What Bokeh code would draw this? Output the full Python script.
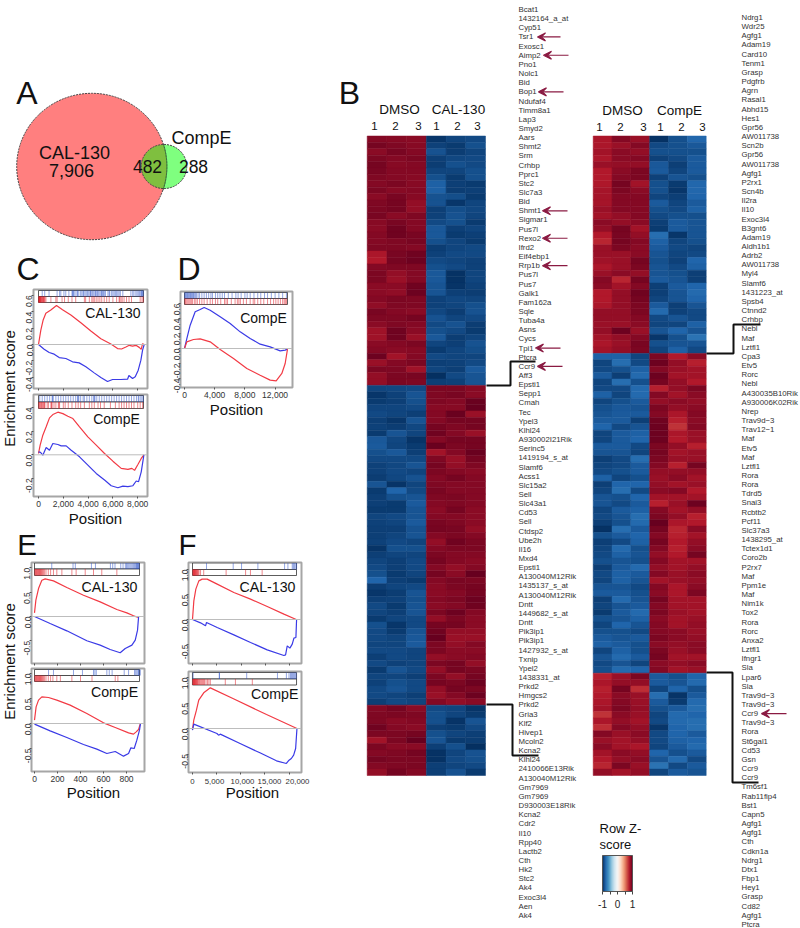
import math
import numpy as np
from bokeh.core.properties import value
from bokeh.embed import file_html
from bokeh.layouts import column, row
from bokeh.models import (Arrow, ColorBar, ColumnDataSource, FixedTicker, LinearColorMapper,
                          NumeralTickFormatter, Range1d, Span, VeeHead)
from bokeh.palettes import RdBu11
from bokeh.plotting import figure
from bokeh.resources import INLINE
from bokeh.transform import transform

FONT = "Liberation Sans"

# ---------- Venn ----------
VENN_CAL_ONLY = 7906
VENN_OVERLAP = 482
VENN_COMPE_ONLY = 288

# ---------- GSEA curves: position / enrichment score ----------
C1_RED_X = [0,188,377,592,995,1453,1937,2610,3416,4223,5030,5837,6375,6698,7048,7317,7586,7855,8124,8285,8393,8527]
C1_RED_Y = [0,.175,.30,.38,.42,.475,.425,.36,.265,.165,.07,.005,-.05,-.055,-.03,-.01,-.02,-.01,-.035,-.06,.01,0]
C1_BLUE_X = [0,457,861,1265,1668,2206,2744,3282,3820,4492,5030,5568,5972,6644,7182,7290,7586,7801,8043,8258,8393,8527]
C1_BLUE_Y = [0,-.057,-.098,-.118,-.159,-.171,-.211,-.224,-.272,-.346,-.403,-.451,-.427,-.427,-.423,-.378,-.415,-.394,-.313,-.191,-.069,0]
C2_RED_X = [0,134,350,619,888,1157,1560,1964,2367,2771,3309,3981,4654,5326,5999,6671,7209,7532,7747,8016,8285,8500]
C2_RED_Y = [.011,.082,.166,.237,.313,.341,.361,.349,.327,.307,.237,.152,.082,.011,-.054,-.115,-.124,-.115,-.132,-.082,-.031,0]
C2_BLUE_X = [0,161,350,619,888,1157,1560,1829,2232,2636,3309,3981,4654,5326,5864,6402,6805,7209,7613,7882,8070,8285,8500]
C2_BLUE_Y = [.025,.02,-.003,.062,.039,.096,.087,.076,.076,.039,-.017,-.087,-.158,-.214,-.262,-.279,-.265,-.27,-.262,-.222,-.228,-.144,0]
D_BLUE_X = [0,309,751,1413,2075,2605,3400,4724,6049,7373,8698,10022,11347,12672,13334,13643]
D_BLUE_Y = [0,.133,.311,.489,.52,.547,.511,.422,.333,.222,.133,.058,.022,-.031,-.022,-.009]
D_RED_X = [0,309,1192,2075,3400,4724,6490,8256,10022,11347,12142,12892,13334,13643]
D_RED_Y = [0,.089,.12,.129,.089,-.013,-.133,-.267,-.356,-.422,-.431,-.333,-.2,-.009]
E1_RED_X = [0,12,35,64,93,165,281,426,571,716,803,861,905]
E1_RED_Y = [.075,.336,.575,.747,.774,.733,.596,.438,.301,.144,.075,.014,-.02]
E1_BLUE_X = [0,136,281,455,571,658,745,789,847,876,896,905]
E1_BLUE_Y = [0,-.144,-.295,-.5,-.589,-.678,-.747,-.658,-.589,-.486,-.281,-.007]
E2_RED_X = [0,14,35,64,122,194,310,455,600,702,818,861,884,905,919]
E2_RED_Y = [.067,.333,.467,.533,.52,.467,.367,.2,.013,-.08,-.187,-.213,-.167,-.12,-.013]
E2_BLUE_X = [0,136,281,426,542,629,702,774,818,838,867,890,913,922]
E2_BLUE_Y = [-.013,-.147,-.28,-.42,-.513,-.6,-.56,-.653,-.6,-.487,-.5,-.333,-.133,0]
F1_RED_X = [0,274,685,1302,1987,3014,5069,8494,11919,15344,18769,21303]
F1_RED_Y = [0,.373,.607,.773,.807,.807,.707,.54,.407,.26,.107,0]
F1_BLUE_X = [0,1644,2672,2877,5069,8494,11919,15344,18769,19112,19454,20002,20481,20824,21235,21372]
F1_BLUE_Y = [0,-.067,-.127,-.06,-.16,-.307,-.46,-.607,-.72,-.707,-.527,-.573,-.493,-.373,-.36,0]
F2_RED_X = [0,274,822,1302,2329,3699,8494,15344,21646]
F2_RED_Y = [-.03,.163,.359,.556,.7,.797,.582,.275,0]
F2_BLUE_X = [0,274,5069,5411,5754,9864,13974,17399,19454,20002,20481,20961,21372,21646]
F2_BLUE_Y = [-.033,.085,-.098,-.131,-.111,-.294,-.477,-.634,-.686,-.621,-.588,-.523,-.392,0]
F2_TICKS = [0, 5000, 10000, 15000, 20000]
F2_TICK_PAGE_X = [192, 214, 242, 269, 297]

# ---------- GSEA hit positions (rug strips) ----------
C1_BLUE_HITS = [300,500,850,1500,1700,1800,2050,2200,2450,2700,2750,2800,2850,2950,3100,3150,3250,3400,3500,3600,3650,3750,3850,3950,4050,4150,4200,4250,4350,4450,4550,4600,4700,4750,4850,4950,5050,5100,5150,5250,5300,5400,5600,5700,5750,5900,6000,6100,6200,6300,6400,6500,6600,6800,7450,7600,7700,7850,7950,8050,8150,8250,8300,8350,8400,8450]
C1_RED_HITS = [20,40,60,80,100,120,150,170,200,240,280,320,360,400,430,470,520,600,1000,1400,1500,1900,2100,2400,2700,3000,3700,3800,4100,4300,4400,4500,4650,4800,4950,5100,5300,5500,5700,6000,6300,6500,6550,6650,6750,6900,7100,7300,7500,8200,8350,8450]
C2_BLUE_HITS = [100,300,500,700,900,1100,1150,1180,1400,1600,1800,2000,2200,2400,2600,2800,3000,3150,3200,3250,3400,3600,3700,3900,4100,4300,4450,4500,4550,4700,4900,5100,5300,5500,5700,5900,6100,6300,6500,6700,6900,7100,7300,7500,7700,7900,8050,8100,8250,8350,8450]
C2_RED_HITS = [30,60,120,180,240,300,360,420,480,520,700,800,1000,1050,1100,1250,1400,1600,1650,1700,2000,2150,2400,2700,3000,3200,3400,3700,4100,4300,4500,4800,5000,5300,5800,6200,6500,6700,6900,7100,7300,7500,7700,8000,8200,8400]
D_BLUE_HITS = [30,120,210,300,400,500,600,700,800,900,1000,1100,1200,1300,1450,1600,1800,2000,2300,2600,2900,3200,3500,3700,4100,4400,4700,5000,5300,5800,6300,6800,7100,7500,8000,8300,8700,9200,9700,10100,10600,11000,11500,12000,12500,13000,13500]
D_RED_HITS = [50,150,300,450,600,750,900,1050,1300,1500,1700,2000,2300,2600,3000,3400,3700,4100,4400,4800,5300,5500,5700,6200,6700,7000,7200,7400,7800,8200,8700,9100,9300,9700,10100,10500,11000,11400,11800,12100,12400,12700,13000,13200,13350,13500]
E1_BLUE_HITS = [150,335,355,495,530,660,680,700,750,770,790,800,810,820,830,840,850,860,870,880,885,890,895,900,905,910]
E1_RED_HITS = [3,8,13,18,23,28,33,38,43,48,53,58,63,70,78,88,100,120,140,165,194,238,325,362,441,513,585,716]
E2_BLUE_HITS = [122,165,339,417,513,525,537,629,650,675,780,818,870,880,890,900,905,910,920]
E2_RED_HITS = [3,8,13,18,23,28,33,38,43,48,53,58,63,70,78,88,100,120,140,160,194,225,325,400,500,702,725]
F1_BLUE_HITS = [2877,8357,10070,13426,18906,19591,20481,20700,20900,21100,21372]
F1_RED_HITS = [70,140,210,280,350,420,500,580,660,750,850,950,1050,1200,1350,1650,2300,6900,10900,11900,14300]
F2_BLUE_HITS = [137,5548,5600,11234,17605,19454,20000,20300,20500,20700,20900,21100,21300,21500]
F2_RED_HITS = [70,140,210,280,350,420,500,580,660,750,850,950,1050,1200,1350,1500,1700,1900,2100,2300,2500,2800,3100,3400,3700,6800,8900,12400]

# ---------- Heat maps ----------
HEADER_1 = ["DMSO", "CAL-130"]
HEADER_2 = ["DMSO", "CompE"]
SAMPLE_NUMBERS = ["1", "2", "3", "1", "2", "3"]

GENES_1 = ["Bcat1","1432164_a_at","Cyp51","Tsr1","Exosc1","Aimp2","Pno1","Nolc1","Bid","Bop1","Ndufaf4","Timm8a1","Lap3","Smyd2","Aars","Shmt2","Srm","Crhbp","Pprc1","Stc2","Slc7a3","Bid","Shmt1","Sigmar1","Pus7l","Rexo2","Ifrd2","Eif4ebp1","Rrp1b","Pus7l","Pus7","Galk1","Fam162a","Sqle","Tuba4a","Asns","Cycs","Tpi1","Ptcra","Ccr9","Aff3","Epsti1","Sepp1","Cmah","Tec","Ypel3","Klhl24","A930002I21Rik","Serinc5","1419194_s_at","Slamf6","Acss1","Slc15a2","Sell","Slc43a1","Cd53","Sell","Ctdsp2","Ube2h","Il16","Mxd4","Epsti1","A130040M12Rik","1435137_s_at","A130040M12Rik","Dntt","1449682_s_at","Dntt","Pik3ip1","Pik3ip1","1427932_s_at","Txnip","Ypel2","1438331_at","Prkd2","Hmgcs2","Prkd2","Gria3","Klf2","Hivep1","Mcoln2","Kcna2","Klhl24","2410066E13Rik","A130040M12Rik","Gm7969","Gm7969","D930003E18Rik","Kcna2","Cdr2","Il10","Rpp40","Lactb2","Cth","Hk2","Stc2","Ak4","Exoc3l4","Aen","Ak4"]
GENES_2 = ["Ndrg1","Wdr25","Agfg1","Adam19","Card10","Tenm1","Grasp","Pdgfrb","Agrn","Rasal1","Abhd15","Hes1","Gpr56","AW011738","Scn2b","Gpr56","AW011738","Agfg1","P2rx1","Scn4b","Il2ra","Il10","Exoc3l4","B3gnt6","Adam19","Aldh1b1","Adrb2","AW011738","Myl4","Slamf6","1431223_at","Spsb4","Ctnnd2","Crhbp","Nebl","Maf","Lztfl1","Cpa3","Etv5","Rorc","Nebl","A430035B10Rik","A930006K02Rik","Nrep","Trav9d\u22123","Trav12\u22121","Maf","Etv5","Maf","Lztfl1","Rora","Rora","Tdrd5","Snai3","Rcbtb2","Pcf11","Slc37a3","1438295_at","Tctex1d1","Coro2b","P2rx7","Maf","Ppm1e","Maf","Nim1k","Tox2","Rora","Rorc","Anxa2","Lztfl1","Ifngr1","Sla","Lpar6","Sla","Trav9d\u22123","Trav9d\u22123","Ccr9","Trav9d\u22123","Rora","St6gal1","Cd53","Gsn","Ccr9","Ccr9","Tm6sf1","Rab11fip4","Bst1","Capn5","Agfg1","Agfg1","Cth","Cdkn1a","Ndrg1","Dtx1","Fbp1","Hey1","Grasp","Cd82","Agfg1","Ptcra"]
ARROW_GENES_1 = [3, 5, 9, 22, 25, 28, 37, 39]
ARROW_GENES_2 = [76]

# Z-score x100 per row; the first three columns are DMSO, the last three the drug.
HM1_TOP = [  # DMSO high
[92,91,90,97,92,90],[96,93,91,93,96,88],[90,95,92,87,95,92],[94,92,94,94,91,90],[96,91,92,95,88,90],
[95,92,92,92,92,88],[93,92,91,88,96,88],[92,94,91,82,94,96],[94,91,92,82,95,94],[90,95,91,87,89,96],
[93,96,88,87,97,92],[94,96,88,94,89,91],[95,90,93,93,87,92],[91,95,92,90,88,96],[90,97,92,85,94,92],
[92,97,95,85,96,94],[92,93,95,88,92,96],[93,93,92,95,92,90],[82,95,97,93,90,90],[80,96,98,90,92,93],
[92,93,93,88,90,93],[94,88,92,85,99,92],[94,86,92,85,99,92],[90,90,97,86,98,93],[90,89,98,86,94,95],
[92,94,93,93,91,92],[89,93,93,93,92,88],[95,92,90,91,95,87],[93,93,96,87,92,90],[90,93,92,90,87,95],
[85,97,90,88,90,96],[85,97,86,85,95,92],[90,92,94,92,94,87],[92,90,91,96,92,89],[98,84,92,90,92,92],
[86,92,94,94,93,90],[94,93,85,92,94,84],[88,94,95,100,90,86],[88,94,93,94,93,86]]
HM1_MID = [  # drug high
[92,91,90,94,94,91],[97,93,86,93,95,90],[96,94,88,93,92,99],[92,92,90,91,91,100],[90,92,94,92,99,86],
[94,97,86,92,96,96],[93,95,91,96,93,96],[96,86,92,97,92,86],[85,91,98,92,96,96],[84,92,96,99,94,96],
[88,85,94,84,92,99],[90,90,90,93,86,96],[93,91,86,96,88,93],[93,90,92,94,92,90],[95,91,87,92,96,92],
[86,98,92,93,92,92],[96,80,90,95,92,92],[94,88,86,93,94,92],[94,96,84,92,93,92],[96,96,86,90,96,90],
[92,90,86,92,92,90],[93,92,84,95,93,90],[94,94,87,96,95,88],[94,92,86,92,94,92],[93,90,92,88,97,94],
[98,88,88,92,94,94],[94,92,92,94,92,92],[92,94,90,96,92,90],[90,94,90,92,88,92],[88,96,92,96,90,100],
[80,94,96,92,95,94],[95,92,90,90,94,96],[97,95,86,90,92,96],[94,93,88,92,94,98],[90,96,86,90,92,97],
[92,94,86,94,98,92],[96,92,90,88,94,90],[88,97,90,96,96,90],[90,96,86,97,88,88],[90,92,85,100,86,86],
[92,92,84,94,88,92],[90,90,92,94,90,90],[94,90,92,88,90,92],[90,93,92,94,96,88],[96,86,90,88,96,94],
[92,92,94,94,88,96],[93,88,90,96,94,98],[90,86,90,88,96,94],[90,92,94,86,92,98],[94,90,92,92,88,90]]
HM1_BOT = [  # DMSO high
[92,96,90,90,92,98],[93,94,93,88,92,96],[93,90,92,88,98,86],[97,92,90,94,96,90],[94,94,96,88,92,94],
[84,94,100,86,96,95],[94,90,90,94,88,100],[92,93,96,99,92,87],[96,94,94,99,90,88],[92,93,94,94,92,90],
[88,96,92,94,87,96]]
HM2_TOP = [  # DMSO high
[82,92,86,99,88,79],[82,86,92,90,88,85],[84,90,88,88,88,88],[82,90,92,93,90,84],[86,88,88,85,94,84],
[80,90,94,84,92,84],[80,92,94,93,86,88],[81,96,84,88,96,79],[83,94,90,88,97,79],[83,92,92,92,94,80],
[83,92,92,84,92,84],[86,92,92,88,90,82],[84,88,92,90,88,88],[90,88,90,94,84,86],[88,96,84,96,84,86],
[80,95,88,76,97,86],[76,96,92,82,92,88],[86,94,90,84,90,92],[86,86,90,86,92,90],[85,86,96,88,93,80],
[82,86,94,86,90,82],[86,90,88,86,88,94],[92,76,96,84,86,94],[90,84,92,94,84,80],[80,88,97,94,86,78],
[80,88,96,92,86,80],[82,88,94,84,94,86],[88,88,94,78,93,90],[88,88,92,90,86,90],[86,86,90,92,92,82],
[88,98,86,86,80,86],[84,88,92,97,88,74],[82,86,95,88,86,86],[84,88,94,92,82,90]]
HM2_MID = [  # drug high
[82,82,92,94,80,90],[92,76,90,98,88,78],[90,88,82,92,86,84],[84,94,78,98,84,84],[92,76,88,96,88,80],
[90,90,78,78,88,94],[82,92,78,92,84,90],[92,88,84,88,90,88],[88,85,86,94,88,90],[86,84,84,92,82,92],
[84,84,94,97,78,90],[80,90,86,98,72,92],[92,84,82,98,82,86],[92,84,80,98,80,86],[84,84,90,94,88,78],
[86,86,92,96,84,86],[94,90,76,94,86,86],[92,90,84,92,78,96],[90,88,84,88,88,88],[82,92,88,86,90,84],
[94,80,80,88,84,86],[92,76,90,90,92,80],[86,88,80,84,84,84],[86,90,84,78,86,98],[92,84,82,92,84,88],
[90,86,76,94,88,78],[94,88,78,100,82,80],[99,76,84,96,76,90],[88,84,80,92,78,84],[94,90,82,96,80,88],
[92,78,88,92,78,90],[90,82,86,88,80,96],[88,86,88,92,84,84],[94,84,78,88,84,88],[90,82,84,92,86,90],
[92,82,86,84,86,88],[86,86,90,92,82,90],[84,84,88,90,82,94],[94,78,86,96,84,84],[92,86,84,92,84,84],
[96,84,78,94,86,84],[88,86,82,90,84,86],[92,80,86,92,84,88],[88,88,90,92,90,86],[84,86,84,94,90,88],
[82,84,88,90,88,90],[92,82,88,94,86,90],[86,78,84,96,84,84],[90,86,92,90,88,90],[88,78,80,92,84,86]]
HM2_BOT = [  # DMSO high
[78,86,94,84,88,80],[82,88,88,84,86,78],[78,96,74,92,80,88],[80,90,86,76,98,84],[82,92,86,84,96,78],
[84,94,88,88,84,76],[72,90,86,92,78,80],[82,88,84,90,78,76],[74,92,88,97,80,76],[92,86,90,90,80,84],
[86,84,88,90,82,80],[90,84,82,92,84,78],[84,90,88,80,88,84],[80,88,90,86,78,90],[76,94,86,74,90,84],
[88,84,88,92,84,86]]

# ---------- layout constants (page pixels; the figures start at page 0,0) ----------
PAGE_W, PAGE_H = 800, 928
RED = "#f23a44"
BLUE = "#3a3ae6"
ARROW_COLOR = "#8a1a42"


def txt(p, xs, ys, labels, size, align="center", color="#111111", angle=0.0, **kw):
    src = ColumnDataSource(dict(x=xs, y=ys, t=labels))
    p.text("x", "y", "t", source=src, text_font=value(FONT), text_font_size=f"{size}px",
           text_align=align, text_baseline="middle", text_color=color, angle=angle, **kw)


def page_figure(x0, x1, y0, y1):
    """A bare figure whose data units are page pixels."""
    p = figure(width=x1 - x0, height=y1 - y0, x_range=Range1d(x0, x1), y_range=Range1d(y1, y0),
               output_backend="svg", toolbar_location=None, min_border=0)
    p.axis.visible = False
    p.grid.visible = False
    p.outline_line_color = None
    return p


def position_strip(x0, x1, y0, y1, page_x, page_y):
    """Wrapped in a row so that the column does not align its frame with the panels."""
    s = page_figure(x0, x1, y0, y1)
    txt(s, [page_x], [page_y], ["Position"], 15)
    return row(s), s


def panel(fig_x, fig_y, frame_x, frame_y, x_zero, x_scale, y_zero, y_scale, rug_x, rug_y,
          curves, hits, xticks, yticks, show_x):
    """One enrichment panel: frame_* in page pixels, x_zero/y_zero the pixel of value 0."""
    fl, fr = frame_x
    ft, fb = frame_y
    p = figure(width=fig_x[1] - fig_x[0], height=fig_y[1] - fig_y[0],
               x_range=Range1d((fl - x_zero) / x_scale, (fr - x_zero) / x_scale),
               y_range=Range1d((y_zero - fb) / y_scale, (y_zero - ft) / y_scale),
               output_backend="svg", toolbar_location=None,
               min_border_left=fl - fig_x[0], min_border_right=fig_x[1] - fr,
               min_border_top=ft - fig_y[0], min_border_bottom=fig_y[1] - fb)
    p.grid.visible = False
    p.outline_line_color = "#a6a6a6"
    p.outline_line_width = 2
    p.axis.axis_line_color = None
    p.axis.major_tick_line_color = "#555555"
    p.axis.minor_tick_line_color = None
    p.axis.major_tick_in = 0
    p.axis.major_tick_out = 2
    p.axis.major_label_text_font = FONT
    p.axis.major_label_text_font_size = "8.5px"
    p.axis.major_label_text_color = "#333333"
    p.axis.major_label_standoff = 2
    p.yaxis.ticker = FixedTicker(ticks=yticks)
    p.xaxis.ticker = FixedTicker(ticks=xticks)
    p.yaxis.formatter = NumeralTickFormatter(format="0.0")
    p.xaxis.formatter = NumeralTickFormatter(format="0,0")
    p.yaxis.major_label_orientation = math.pi / 2
    if not show_x:
        p.xaxis.major_label_overrides = {t: "" for t in xticks}
        p.xaxis.major_label_standoff = 0

    p.add_layout(Span(location=0, dimension="width", line_color="#bdbdbd", line_width=1))
    for xs, ys, color in curves:
        p.line(xs, ys, line_color=color, line_width=1.2)

    ytop, ymid, ybot = [(y_zero - v) / y_scale for v in rug_y]
    x_a, x_b = [(v - x_zero) / x_scale for v in rug_x]
    p.quad(left=[x_a, x_a], right=[x_b, x_b], top=[ytop, ymid], bottom=[ymid, ybot],
           fill_color="white", line_color="#333333", line_width=0.8)
    w = 1.0 / x_scale
    p.vbar(x=hits[0], width=w, bottom=ymid, top=ytop, fill_color="#2a50c8", fill_alpha=0.5, line_color=None)
    p.vbar(x=hits[1], width=w, bottom=ybot, top=ymid, fill_color="#e0141e", fill_alpha=0.5, line_color=None)
    return p


# ---------- head figure: A, Venn, C, D ----------
head = page_figure(0, 340, 0, 287)
k = 0.82
r_big = k * math.sqrt(VENN_CAL_ONLY + VENN_OVERLAP)
r_small = k * math.sqrt(VENN_OVERLAP + VENN_COMPE_ONLY)
head.ellipse([91.3], [166], width=[2 * r_big], height=[2 * r_big * 0.975], fill_color="#ff0000",
             fill_alpha=0.5, line_color="#444444", line_dash="2 1", line_width=1)
head.ellipse([163.5], [166], width=[2 * r_small], height=[2 * r_small * 0.97], fill_color="#00ff00",
             fill_alpha=0.5, line_color="#444444", line_dash="2 1", line_width=1)
head.arc([91.3], [166], radius=[r_big], start_angle=[-0.32], end_angle=[0.32],
         line_color="#444444", line_dash="2 1", line_width=1, direction="anticlock")
txt(head, [74], [152], ["CAL-130"], 18)
txt(head, [71], [170], [f"{VENN_CAL_ONLY:,}"], 18)
txt(head, [147], [166], [str(VENN_OVERLAP)], 17.5)
txt(head, [193], [166], [str(VENN_COMPE_ONLY)], 17.5)
txt(head, [201], [137], ["CompE"], 18)
txt(head, [26.5], [92], ["A"], 32)
txt(head, [27.5], [268], ["C"], 32)
txt(head, [188.5], [268], ["D"], 32)

# ---------- C and D ----------
es_c = page_figure(0, 18, 287, 527)
txt(es_c, [9], [388], ["Enrichment score"], 15, angle=math.pi / 2)

c1 = panel((18, 164), (287, 392), (33, 147), (289, 388), 38, 0.0124, 344, 82,
           (38, 143), (290, 296, 302),
           [(C1_RED_X, C1_RED_Y, RED), (C1_BLUE_X, C1_BLUE_Y, BLUE)], (C1_BLUE_HITS, C1_RED_HITS),
           [0, 2000, 4000, 6000, 8000], [-0.4, -0.2, 0, 0.2, 0.4, 0.6], False)
txt(c1, [6000], [0.38], ["CAL-130"], 14)
c2 = panel((18, 164), (392, 510), (33, 147), (394, 496), 38, 0.0124, 454.3, 118,
           (38, 143), (395, 401.5, 408),
           [(C2_RED_X, C2_RED_Y, RED), (C2_BLUE_X, C2_BLUE_Y, BLUE)], (C2_BLUE_HITS, C2_RED_HITS),
           [0, 2000, 4000, 6000, 8000], [-0.4, -0.2, 0, 0.2, 0.4], True)
txt(c2, [6290], [0.3], ["CompE"], 14)
c_strip, _ = position_strip(18, 164, 510, 527, 95, 518)
d = panel((164, 340), (287, 401), (180, 292), (291, 387), 184, 0.00755, 348, 75,
          (184, 287), (292, 298, 304),
          [(D_BLUE_X, D_BLUE_Y, BLUE), (D_RED_X, D_RED_Y, RED)], (D_BLUE_HITS, D_RED_HITS),
          [0, 4000, 8000, 12000], [-0.4, -0.2, 0, 0.2, 0.4, 0.6], True)
txt(d, [10460], [0.413], ["CompE"], 14)
d_strip, _ = position_strip(164, 340, 401, 527, 236, 409)

row_cd = row(column(es_c), column(c1, c2, c_strip), column(d, d_strip))

# ---------- E and F ----------
head2 = page_figure(0, 340, 527, 561)
txt(head2, [26.5], [544], ["E"], 29.5)
txt(head2, [187], [544], ["F"], 29.5)

es_e = page_figure(0, 17, 561, 800)
txt(es_e, [8.5], [661], ["Enrichment score"], 15, angle=math.pi / 2)

e1 = panel((17, 170), (561, 666), (31, 144), (562, 663), 34, 0.115, 616, 48.6,
           (34, 139), (562.5, 568.5, 575),
           [(E1_RED_X, E1_RED_Y, RED), (E1_BLUE_X, E1_BLUE_Y, BLUE)], (E1_BLUE_HITS, E1_RED_HITS),
           [0, 200, 400, 600, 800], [-0.5, 0, 0.5, 1.0], False)
txt(e1, [652], [0.617], ["CAL-130"], 14.2)
e2 = panel((17, 170), (666, 784), (31, 144), (668, 771), 34, 0.115, 723, 50,
           (34, 139), (669, 675, 681),
           [(E2_RED_X, E2_RED_Y, RED), (E2_BLUE_X, E2_BLUE_Y, BLUE)], (E2_BLUE_HITS, E2_RED_HITS),
           [0, 200, 400, 600, 800], [-0.5, 0, 0.5, 1.0], True)
txt(e2, [696], [0.64], ["CompE"], 14.2)
e_strip, _ = position_strip(17, 170, 784, 801, 93, 792)
f1 = panel((170, 340), (561, 666), (188, 301), (562, 663), 192, 0.00487, 619, 50,
           (192, 296), (562.5, 569, 575),
           [(F1_RED_X, F1_RED_Y, RED), (F1_BLUE_X, F1_BLUE_Y, BLUE)], (F1_BLUE_HITS, F1_RED_HITS),
           [0, 5000, 10000, 15000, 20000], [-0.5, 0, 0.5, 1.0], False)
txt(f1, [15400], [0.66], ["CAL-130"], 14.2)
f2 = panel((170, 340), (666, 775), (188, 302), (671, 772), 192, 0.00487, 728, 51,
           (192, 297), (672, 678.5, 684.5),
           [(F2_RED_X, F2_RED_Y, RED), (F2_BLUE_X, F2_BLUE_Y, BLUE)], (F2_BLUE_HITS, F2_RED_HITS),
           F2_TICKS, [-0.5, 0, 0.5, 1.0], False)
txt(f2, [17043], [0.667], ["CompE"], 14.2)
f_strip, f_fig = position_strip(170, 340, 775, 801, 252, 792)
txt(f_fig, F2_TICK_PAGE_X, [780.5] * 5, [f"{t:,}" for t in F2_TICKS], 7.8, color="#333333")

row_ef = row(column(es_e), column(e1, e2, e_strip), column(f1, f2, f_strip))
left = column(head, row_cd, head2, row_ef)

# ---------- heat maps ----------
anchors = [tuple(int(c[i:i + 2], 16) for i in (1, 3, 5)) for c in RdBu11]
t_a = np.linspace(0, 1, len(anchors))
t_b = np.linspace(0, 1, 256)
palette = ["#%02x%02x%02x" % tuple(int(round(np.interp(t, t_a, [a[ch] for a in anchors]))) for ch in range(3))
           for t in t_b]
mapper = LinearColorMapper(palette=palette, low=-1, high=1)


def heat_table(blocks):
    zs, xs, ys = [], [], []
    i = 0
    for rows, signs in blocks:
        for r in rows:
            for j, v in enumerate(r):
                zs.append(signs[j] * v / 100)
                xs.append(j + 0.5)
                ys.append(i + 0.5)
            i += 1
    return dict(x=xs, y=ys, z=zs)


def heat_figure(fig_x, heat_x, heat_y, blocks, genes, gene_x, gene_y0, gene_dy):
    col_w = (heat_x[1] - heat_x[0]) / 6
    row_h = (heat_y[1] - heat_y[0]) / 100
    p = figure(width=fig_x[1] - fig_x[0], height=PAGE_H,
               x_range=Range1d((fig_x[0] - heat_x[0]) / col_w, (fig_x[1] - heat_x[0]) / col_w),
               y_range=Range1d((PAGE_H - heat_y[0]) / row_h, -heat_y[0] / row_h),
               output_backend="svg", toolbar_location=None, min_border=0)
    p.axis.visible = False
    p.grid.visible = False
    p.outline_line_color = None
    p.extra_x_ranges["page"] = Range1d(*fig_x)
    p.extra_y_ranges["page"] = Range1d(PAGE_H, 0)
    p.extra_y_ranges["genes"] = Range1d((PAGE_H - gene_y0) / gene_dy, -gene_y0 / gene_dy)
    src = ColumnDataSource(heat_table(blocks))
    col = transform("z", mapper)
    p.rect("x", "y", width=1, height=1, source=src, fill_color=col, line_color=col, line_width=0.5)
    txt(p, [gene_x] * len(genes), list(range(len(genes))), genes, 7.8, align="left", color="#333333",
        x_range_name="page", y_range_name="genes")
    return p


def add_arrows(p, idx, x_tail, x_tip):
    src = ColumnDataSource(dict(x0=x_tail, x1=x_tip, i=idx))
    p.add_layout(Arrow(end=VeeHead(size=8, line_color=ARROW_COLOR, line_width=1.2, fill_color=ARROW_COLOR),
                       x_start="x0", x_end="x1", y_start="i", y_end="i", source=src,
                       line_color=ARROW_COLOR, line_width=1.2,
                       x_range_name="page", y_range_name="genes"))


def connector(p, xs, ys):
    p.line(xs, ys, line_color="#111111", line_width=2, x_range_name="page", y_range_name="page")


DMSO_HIGH = (1, 1, 1, -1, -1, -1)
DRUG_HIGH = (-1, -1, -1, 1, 1, 1)

b1 = heat_figure((340, 585), (366.7, 485), (135.5, 775),
                 [(HM1_TOP, DMSO_HIGH), (HM1_MID, DRUG_HIGH), (HM1_BOT, DMSO_HIGH)],
                 GENES_1, 518, 9, 9.15)
txt(b1, [349], [92], ["B"], 32, x_range_name="page", y_range_name="page")
txt(b1, [399, 458], [109, 109], HEADER_1, 13.5, x_range_name="page", y_range_name="page")
txt(b1, [374, 395, 418, 436, 457, 477], [125] * 6, SAMPLE_NUMBERS, 11.5, x_range_name="page", y_range_name="page")
connector(b1, [486, 510, 510, 535], [385, 385, 361, 361])
connector(b1, [486, 512, 512, 538], [704, 704, 755, 755])
add_arrows(b1, ARROW_GENES_1, [560, 568, 563, 567, 567, 567, 560, 562], [537, 543, 538, 542, 542, 542, 535, 537])

b2 = heat_figure((585, 800), (592.7, 705.7), (135.5, 775),
                 [(HM2_TOP, DMSO_HIGH), (HM2_MID, DRUG_HIGH), (HM2_BOT, DMSO_HIGH)],
                 GENES_2, 741, 17, 9.16)
txt(b2, [622, 679], [110, 110], HEADER_2, 13.5, x_range_name="page", y_range_name="page")
txt(b2, [599, 620, 643, 660, 681, 702], [126] * 6, SAMPLE_NUMBERS, 11.5, x_range_name="page", y_range_name="page")
connector(b2, [706, 733, 733, 760], [353, 353, 324, 324])
connector(b2, [706, 732, 732, 758], [672, 672, 782, 782])
add_arrows(b2, ARROW_GENES_2, [786], [761])
txt(b2, [599, 599], [828, 844], ["Row Z-", "score"], 13, align="left", x_range_name="page", y_range_name="page")

bar = ColorBar(color_mapper=mapper, orientation="horizontal", width=30, height=36,
               location=(602 - 585, PAGE_H - 910), margin=0, padding=0,
               ticker=FixedTicker(ticks=[-1, -0.5, 0, 0.5, 1]),
               major_label_overrides={-0.5: "", 0.5: "", -1: "-1", 0: "0", 1: "1"},
               major_label_text_font=FONT, major_label_text_font_size="10px",
               major_label_text_color="#222222", major_tick_in=0, major_tick_out=3,
               major_tick_line_color="#444444", bar_line_color="#555555",
               background_fill_color=None, border_line_color=None, title=None)
b2.add_layout(bar)

root = row(left, b1, b2)
open("out.html", "w").write(file_html(root, INLINE))
